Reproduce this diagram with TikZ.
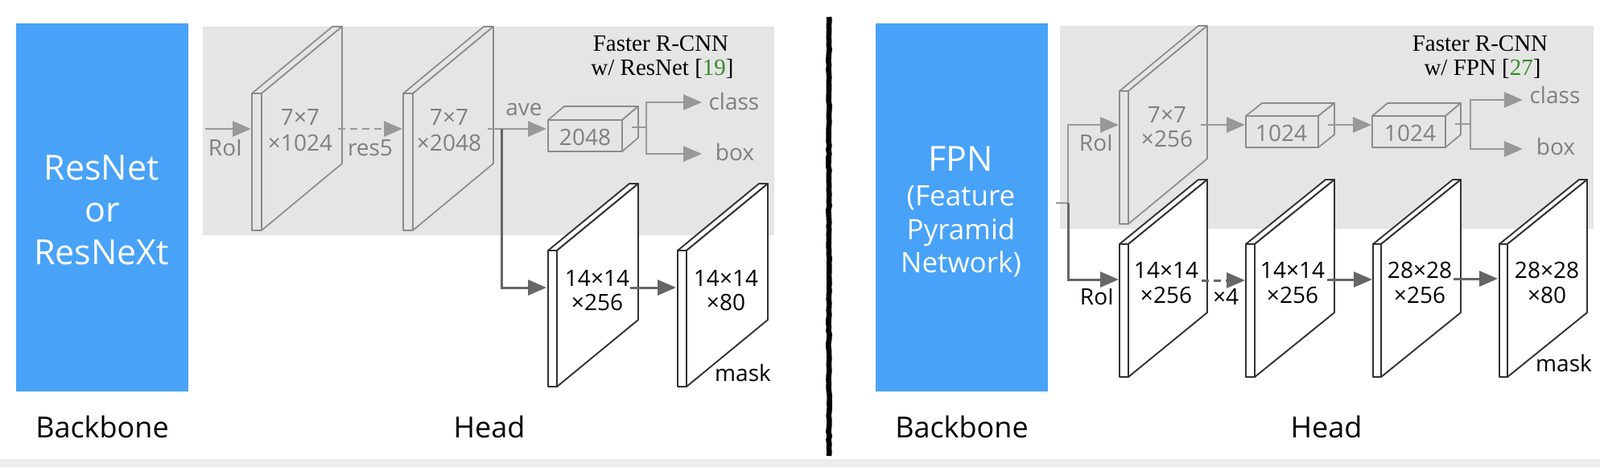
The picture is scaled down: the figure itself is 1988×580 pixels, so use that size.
\documentclass[tikz,border=0pt]{standalone}
\usepackage{fontspec}
\setmainfont{Open Sans}
\newfontfamily\serifface{Liberation Serif}
\usetikzlibrary{arrows.meta,decorations.pathmorphing}
\definecolor{bbblue}{RGB}{72,162,248}
\definecolor{regiongray}{RGB}{229,229,229}
\definecolor{stripgray}{RGB}{236,236,236}
\definecolor{lightline}{RGB}{152,152,152}
\definecolor{plategray}{RGB}{140,140,140}
\definecolor{txtgray}{RGB}{128,128,128}
\definecolor{darkline}{RGB}{102,102,102}
\definecolor{plateedge}{RGB}{50,50,50}
\definecolor{citegreen}{RGB}{56,140,40}
\newcommand{\myfs}[1]{\fontsize{#1}{#1}\selectfont}
% #1 style, #2 x0, #3 y0, #4 strip width, #5 height, #6 dx, #7 dy
\newcommand{\platedraw}[7]{%
  \draw[#1] (#2,#3) rectangle ({#2+#4},{#3+#5});
  \draw[#1] (#2,#3) -- ({#2+#6},{#3-#7}) -- ({#2+#4+#6},{#3-#7}) -- ({#2+#4},#3) -- cycle;
  \draw[#1] ({#2+#4},#3) -- ({#2+#4+#6},{#3-#7}) -- ({#2+#4+#6},{#3-#7+#5}) -- ({#2+#4},{#3+#5}) -- cycle;
}
% #1 x0, #2 y0, #3 x1, #4 y1, #5 dx, #6 dy
\newcommand{\cubedraw}[6]{%
  \draw[gplate] (#1,#2) rectangle (#3,#4);
  \draw[gplate] (#1,#2) -- ({#1+#5},{#2-#6}) -- ({#3+#5},{#2-#6}) -- (#3,#2) -- cycle;
  \draw[gplate] (#3,#2) -- ({#3+#5},{#2-#6}) -- ({#3+#5},{#4-#6}) -- (#3,#4) -- cycle;
}
\tikzset{
  gplate/.style={draw=plategray, fill=regiongray, line width=0.85pt, line join=round},
  wplate/.style={draw=plateedge, fill=white, line width=0.95pt, line join=round},
  garrow/.style={draw=lightline, line width=1.4pt, -{Triangle[length=11.5pt,width=9.5pt]}},
  gline/.style={draw=lightline, line width=1.4pt},
  darrow/.style={draw=darkline, line width=1.5pt, -{Triangle[length=11.5pt,width=9.5pt]}},
  dline/.style={draw=darkline, line width=1.5pt},
  dashline/.style={dash pattern=on 4.5pt off 3pt},
  glbl/.style={inner sep=0pt, anchor=base, text=txtgray, font=\myfs{14}},
  blbl/.style={inner sep=0pt, anchor=base, text=black, font=\myfs{14}},
  biglbl/.style={inner sep=0pt, anchor=base, text=black, font=\myfs{18}},
  bbtxt/.style={inner sep=0pt, anchor=base, text=white, font=\myfs{21.5}},
  bbsmall/.style={inner sep=0pt, anchor=base, text=white, font=\myfs{17.5}},
  frcnn/.style={inner sep=0pt, anchor=base, text=black, font=\serifface\myfs{14.5}},
}
\begin{document}
\begin{tikzpicture}[x=0.5pt,y=-0.5pt]
\useasboundingbox (0,0) rectangle (1988,580);
% bottom strip
\fill[stripgray] (0,570) rectangle (1988,580);

% ================= LEFT PANEL =================
\fill[bbblue] (20,29) rectangle (234,486);
\node[bbtxt] (t1) at (126,223) {ResNet};
\node[bbtxt] (t2) at (127,275) {or};
\node[bbtxt] (t3) at (126,328) {ResNeXt};
\node[biglbl] (bkL) at (127,543) {Backbone};
\node[biglbl] (hdL) at (608,543) {Head};

\fill[regiongray] (252,33) rectangle (962,292);
\node[frcnn] (fr1) at (821,63) {Faster R-CNN};
\node[frcnn] (fr2) at (823,93) {w/ ResNet [{\color{citegreen}19}]};

% gray plates
\platedraw{gplate}{313}{116}{12}{170}{100}{83}
\platedraw{gplate}{501}{116}{12}{170}{100}{83}
\node[glbl] (p1a) at (373,155) {7×7};
\node[glbl] (p1b) at (373,187) {×1024};
\node[glbl] (p2a) at (558,155) {7×7};
\node[glbl] (p2b) at (558,187) {×2048};
% 2048 cube
\cubedraw{681}{149}{773}{188}{20}{17}
\node[glbl] (c2048) at (727,180) {2048};

\coordinate (roiL) at (255,160);
\coordinate (p1in) at (312,160);
\coordinate (p1out) at (420,160);
\coordinate (p2in) at (500,160);
\coordinate (p2out) at (606,160);
\coordinate (cubein) at (679,160);
\coordinate (branchL) at (623,160);
\coordinate (cubeout) at (785,158);
\coordinate (forkL) at (803,158);
\coordinate (classL) at (872,127);
\coordinate (boxL) at (872,191);

\draw[garrow] (roiL) -- (p1in);
\draw[garrow,dashline] (p1out) -- (p2in);
\draw[garrow] (p2out) -- (cubein);
\draw[gline] (cubeout) -- (forkL);
\draw[garrow] (forkL) |- (classL);
\draw[garrow] (forkL) |- (boxL);
\node[glbl] (roiLt) at (280,193) {RoI};
\node[glbl] (res5) at (460,193) {res5};
\node[glbl] (ave) at (651,143) {ave};
\node[glbl] (classLt) at (912,136) {class};
\node[glbl] (boxLt) at (913,199) {box};

% mask plates
\platedraw{wplate}{681}{311}{11}{169}{101}{83}
\platedraw{wplate}{842}{311}{11}{169}{101}{83}
\node[blbl] (m1a) at (742,355) {14×14};
\node[blbl] (m1b) at (742,385) {×256};
\node[blbl] (m2a) at (902,355) {14×14};
\node[blbl] (m2b) at (902,385) {×80};
\node[blbl] (maskL) at (923,473) {mask};

\coordinate (m1in) at (679,357);
\coordinate (m1out) at (783,357);
\coordinate (m2in) at (840,357);
\draw[darrow] (branchL) |- (m1in);
\draw[darrow] (m1out) -- (m2in);

% ================= SEPARATOR =================
\coordinate (sepTop) at (1030,21);
\coordinate (sepBot) at (1030,566);
\draw[black, line width=3.3pt, decorate, decoration={random steps, segment length=2.5pt, amplitude=0.35pt}] (sepTop) -- (sepBot);

% ================= RIGHT PANEL =================
\fill[bbblue] (1088,29) rectangle (1302,486);
\node[bbtxt] (f1) at (1194,212) {FPN};
\node[bbsmall] (f2) at (1194,255) {(Feature};
\node[bbsmall] (f3) at (1194,297) {Pyramid};
\node[bbsmall] (f4) at (1194,338) {Network)};
\node[biglbl] (bkR) at (1195,543) {Backbone};
\node[biglbl] (hdR) at (1648,543) {Head};

\fill[regiongray] (1317,32) rectangle (1980,284);
\node[frcnn] (fr3) at (1839,63) {Faster R-CNN};
\node[frcnn] (fr4) at (1842,93) {w/ FPN [{\color{citegreen}27}]};

\platedraw{gplate}{1391}{113}{11}{165}{98}{81}
\node[glbl] (g1a) at (1450,152) {7×7};
\node[glbl] (g1b) at (1450,182) {×256};
\cubedraw{1548}{144}{1638}{183}{20}{16}
\cubedraw{1705}{144}{1796}{183}{19}{16}
\node[glbl] (c1t) at (1592,175) {1024};
\node[glbl] (c2t) at (1752,175) {1024};

\coordinate (fpnout) at (1312,252);
\coordinate (fpnfork) at (1327,252);
\coordinate (g1in) at (1390,155);
\coordinate (g1out) at (1492,155);
\coordinate (c1in) at (1547,155);
\coordinate (c1out) at (1650,155);
\coordinate (c2in) at (1704,155);
\coordinate (c2out) at (1808,154);
\coordinate (fork2) at (1827,154);
\coordinate (class2) at (1892,124);
\coordinate (box2) at (1892,185);
\draw[gline] (fpnout) -- (fpnfork);
\draw[garrow] (fpnfork) |- (g1in);
\draw[garrow] (g1out) -- (c1in);
\draw[garrow] (c1out) -- (c2in);
\draw[gline] (c2out) -- (fork2);
\draw[garrow] (fork2) |- (class2);
\draw[garrow] (fork2) |- (box2);
\node[glbl] (roiRt) at (1362,187) {RoI};
\node[glbl] (classRt) at (1932,128) {class};
\node[glbl] (boxRt) at (1933,192) {box};

% mask plates right
\platedraw{wplate}{1391}{303}{11}{165}{98}{80}
\platedraw{wplate}{1548}{303}{11}{165}{99}{80}
\platedraw{wplate}{1706}{303}{10}{165}{99}{80}
\platedraw{wplate}{1863}{303}{10}{165}{99}{80}
\node[blbl] (r1a) at (1449,345) {14×14};
\node[blbl] (r1b) at (1449,376) {×256};
\node[blbl] (r2a) at (1606,345) {14×14};
\node[blbl] (r2b) at (1606,376) {×256};
\node[blbl] (r3a) at (1764,345) {28×28};
\node[blbl] (r3b) at (1764,376) {×256};
\node[blbl] (r4a) at (1922,345) {28×28};
\node[blbl] (r4b) at (1922,376) {×80};
\node[blbl] (maskR) at (1943,461) {mask};
\node[blbl] (roiRb) at (1363,378) {RoI};
\node[blbl] (x4) at (1523,378) {×4};

\coordinate (r1in) at (1390,347);
\coordinate (r1out) at (1493,348);
\coordinate (r2in) at (1547,348);
\coordinate (r2out) at (1649,347);
\coordinate (r3in) at (1705,347);
\coordinate (r3out) at (1806,346);
\coordinate (r4in) at (1861,346);
\draw[darrow] (fpnfork) |- (r1in);
\draw[darrow,dashline] (r1out) -- (r2in);
\draw[darrow] (r2out) -- (r3in);
\draw[darrow] (r3out) -- (r4in);
\end{tikzpicture}
\end{document}
